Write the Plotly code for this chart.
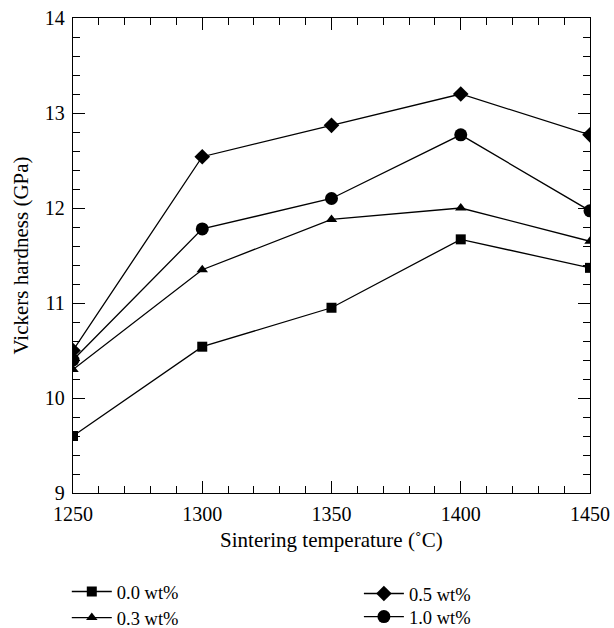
import plotly.graph_objects as go

temps = [1250, 1300, 1350, 1400, 1450]
hv_00 = [9.60, 10.54, 10.95, 11.67, 11.37]
hv_03 = [10.30, 11.35, 11.88, 12.00, 11.65]
hv_05 = [10.50, 12.54, 12.87, 13.20, 12.77]
hv_10 = [10.40, 11.78, 12.10, 12.77, 11.97]

labels = ["0.0 wt%", "0.3 wt%", "0.5 wt%", "1.0 wt%"]
series = [hv_00, hv_03, hv_05, hv_10]
symbols = ["square", "triangle-up", "diamond", "circle"]
sizes = [10, 10, 12, 13]
legend_ids = ["legend", "legend2", "legend3", "legend4"]
legend_pos = [(-0.012, -0.2084), (-0.012, -0.2632), (0.553, -0.2126), (0.553, -0.2611)]

FONT = "Liberation Serif"

fig = go.Figure()
for lab, ys, sym, sz, lg in zip(labels, series, symbols, sizes, legend_ids):
    fig.add_trace(go.Scatter(
        x=temps, y=ys, name=lab, mode="lines+markers",
        line=dict(color="black", width=1.3),
        marker=dict(symbol=sym, size=sz, color="black"),
        legend=lg, showlegend=True,
    ))

axis_common = dict(
    showline=True, linecolor="black", linewidth=1.3, mirror="ticks",
    ticks="inside", ticklen=12, tickwidth=1.3, tickcolor="black",
    showgrid=False, zeroline=False,
    tickfont=dict(family=FONT, size=20, color="black"),
)

legend_layout = {}
for lg, (lx, ly) in zip(legend_ids, legend_pos):
    legend_layout[lg] = dict(
        x=lx, y=ly, xanchor="left", yanchor="middle", orientation="v",
        bgcolor="rgba(0,0,0,0)", font=dict(family=FONT, size=18.5),
        itemwidth=40, visible=True,
    )

fig.update_layout(
    width=614, height=628,
    showlegend=True,
    margin=dict(l=73, r=24, t=18, b=135, autoexpand=False),
    paper_bgcolor="white", plot_bgcolor="white",
    font=dict(family=FONT, size=18, color="black"),
    xaxis=dict(
        range=[1250, 1450], tickmode="array", tickvals=[1250, 1300, 1350, 1400, 1450],
        minor=dict(dtick=10, ticks="inside", ticklen=7, tickwidth=1.3, tickcolor="black"),
        title=dict(text="Sintering temperature (˚C)", font=dict(family=FONT, size=21), standoff=8),
        ticklabelstandoff=3,
        **axis_common,
    ),
    yaxis=dict(
        range=[9, 14], tickmode="array", tickvals=[9, 10, 11, 12, 13, 14],
        minor=dict(dtick=0.2, ticks="inside", ticklen=7, tickwidth=1.3, tickcolor="black"),
        title=dict(text="Vickers hardness (GPa)", font=dict(family=FONT, size=21), standoff=10),
        ticklabelstandoff=3,
        **axis_common,
    ),
    **legend_layout,
)

fig.write_html("out.html")
